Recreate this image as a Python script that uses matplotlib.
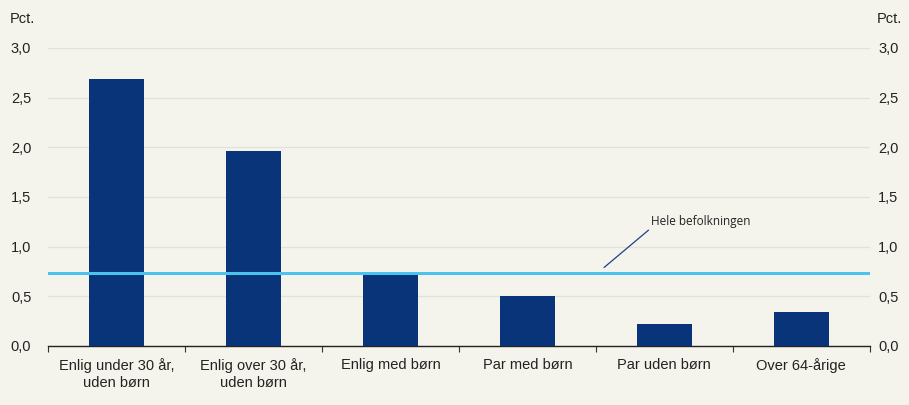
import matplotlib.pyplot as plt
import numpy as np

categories = ['Enlig under 30 år,\nuden børn', 'Enlig over 30 år,\nuden børn', 'Enlig med børn',
              'Par med børn', 'Par uden børn', 'Over 64-årige']
values = [2.69, 1.96, 0.715, 0.50, 0.22, 0.34]
hele_befolkningen = 0.735
yticks = [0.0, 0.5, 1.0, 1.5, 2.0, 2.5, 3.0]
ytick_labels = ['0,0', '0,5', '1,0', '1,5', '2,0', '2,5', '3,0']

bg = '#F5F4EC'
plt.rcParams['font.family'] = ['Liberation Sans', 'DejaVu Sans']

fig = plt.figure(figsize=(9.09, 4.05), dpi=100, facecolor=bg)
ax = fig.add_axes([0.0528, 0.1457, 0.904, 0.7358], facecolor=bg)

x = np.arange(len(categories))
ax.bar(x, values, width=0.4, color='#0A347A', zorder=3)
ax.axhline(hele_befolkningen, color='#4CC3EE', lw=2.2, zorder=4)

ax.set_xlim(-0.5, len(categories) - 0.5)
ax.set_ylim(0, 3.0)
ax.set_yticks(yticks)
ax.set_yticklabels(ytick_labels)
ax.tick_params(axis='y', length=0, labelsize=10.5, colors='#222222', pad=12)
ax.grid(axis='y', color='#E2E1DA', lw=0.9, zorder=0)

ax.set_xticks(x)
ax.set_xticklabels(categories, fontsize=10.5, color='#222222')
ax.set_xticks(np.arange(len(categories) + 1) - 0.5, minor=True)
ax.tick_params(axis='x', which='major', length=0, pad=9)
ax.tick_params(axis='x', which='minor', length=4, color='#333333', width=0.8)

for s in ['top', 'left', 'right']:
    ax.spines[s].set_visible(False)
ax.spines['bottom'].set_color('#222222')
ax.spines['bottom'].set_linewidth(1.0)

ax2 = ax.twinx()
ax2.set_ylim(0, 3.0)
ax2.set_yticks(yticks)
ax2.set_yticklabels(ytick_labels)
ax2.tick_params(axis='y', length=0, labelsize=10.5, colors='#222222', pad=6)
for s in ['top', 'left', 'right', 'bottom']:
    ax2.spines[s].set_visible(False)

fig.text(0.011, 0.943, 'Pct.', fontsize=10.5, color='#222222')
fig.text(0.965, 0.943, 'Pct.', fontsize=10.5, color='#222222')

ax.annotate('Hele befolkningen', xy=(3.56, 0.79), xytext=(3.905, 1.22),
            fontsize=8.5, family=['Open Sans', 'DejaVu Sans'], color='#222222',
            arrowprops=dict(arrowstyle='-', color='#1F3F8A', lw=0.9, shrinkA=0, shrinkB=0,
                            relpos=(0, 0)), zorder=5)

fig.savefig('out.png', dpi=100, facecolor=bg)
